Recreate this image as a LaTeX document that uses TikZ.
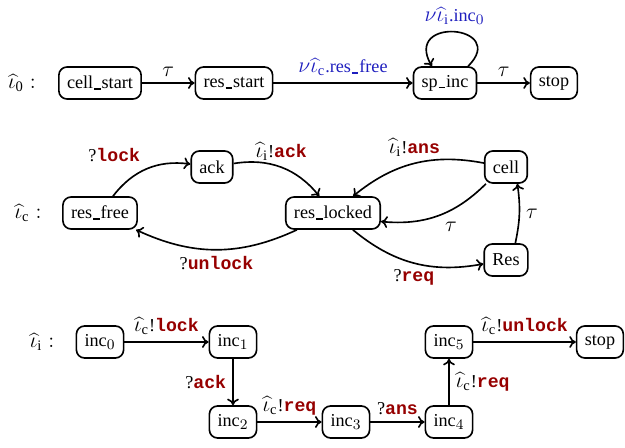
\documentclass[tikz,border=0pt]{standalone}
\usepackage{fontspec}
\setmainfont{Liberation Serif}
\setmonofont{Liberation Mono}
\usetikzlibrary{arrows.meta}
\DeclareMathSizes{10}{11.5}{8}{6}
\definecolor{chanred}{RGB}{150,0,0}
\definecolor{newblue}{RGB}{30,30,190}
\newcommand{\ihat}[1]{\widehat{\iota}_{\mathrm{#1}}}
\newcommand{\msg}[1]{\textcolor{chanred}{\texttt{\textbf{#1}}}}
\newcommand{\us}{\kern.05em\rule[-0.07em]{0.36em}{0.09em}\kern.05em}
\begin{document}
\begin{tikzpicture}[x=0.55pt, y=-0.55pt, line width=0.9pt, >={To[length=3.6pt,width=6.5pt]},
	loc/.style={draw, rounded corners=4.5pt, minimum height=17.6pt, inner xsep=4.5pt, inner ysep=2pt},
	newname/.style={text=newblue}]
	\useasboundingbox (0,0) rectangle (625,448);
	\node (p0) at (22,83) {$\ihat{0}:$};
	\node[loc] (cs) at (100,83) {cell\us start};
	\node[loc] (rs) at (234,83) {res\us start};
	\node[loc] (sp) at (445,83) {sp\us inc};
	\node[loc] (st0) at (554,83) {stop};
	\draw[->] (cs) -- node[above] {$\tau$} (rs);
	\draw[->] (rs) -- node[above, newname] {$\nu\ihat{c}$.res\us free} (sp);
	\draw[->] (sp.36) to[out=45, in=120, distance=32pt] node[above, newname] {$\nu\ihat{i}$.inc$_0$} (sp.128);
	\draw[->] (sp) -- node[above] {$\tau$} (st0);

	\node (pc) at (28,213) {$\ihat{c}:$};
	\node[loc] (rf) at (100,213) {res\us free};
	\node[loc] (ack) at (212,167) {ack};
	\node[loc] (rl) at (333,213) {res\us locked};
	\node[loc] (cell) at (506,167) {cell};
	\node[loc] (res) at (506,260) {Res};
	\draw[->] (rf) to[bend left=30] node[above left] {?\msg{lock}} (ack);
	\draw[->] (ack) to[bend left=30] node[above] {$\ihat{i}$!\msg{ack}} (rl);
	\draw[->] (rl) to[bend left=25] node[below] {?\msg{unlock}} (rf);
	\draw[->] (cell) to[bend right=25] node[above] {$\ihat{i}$!\msg{ans}} (rl);
	\draw[->] (cell) to[bend left=25] node[below right] {$\tau$} (rl);
	\draw[->] (rl) to[bend right=25] node[below] {?\msg{req}} (res);
	\draw[->] (res.61) to[bend right=10] node[right] {$\tau$} (cell.-56);

	\node (pi) at (42,342) {$\ihat{i}:$};
	\node[loc] (i0) at (100,342) {inc$_0$};
	\node[loc] (i1) at (233,342) {inc$_1$};
	\node[loc] (i2) at (233,422) {inc$_2$};
	\node[loc] (i3) at (346,422) {inc$_3$};
	\node[loc] (i4) at (449,422) {inc$_4$};
	\node[loc] (i5) at (449,342) {inc$_5$};
	\node[loc] (st1) at (600,342) {stop};
	\draw[->] (i0) -- node[above] {$\ihat{c}$!\msg{lock}} (i1);
	\draw[->] (i1) -- node[left] {?\msg{ack}} (i2);
	\draw[->] (i2) -- node[above] {$\ihat{c}$!\msg{req}} (i3);
	\draw[->] (i3) -- node[above] {?\msg{ans}} (i4);
	\draw[->] (i4) -- node[right] {$\ihat{c}$!\msg{req}} (i5);
	\draw[->] (i5) -- node[above] {$\ihat{c}$!\msg{unlock}} (st1);
\end{tikzpicture}
\end{document}
